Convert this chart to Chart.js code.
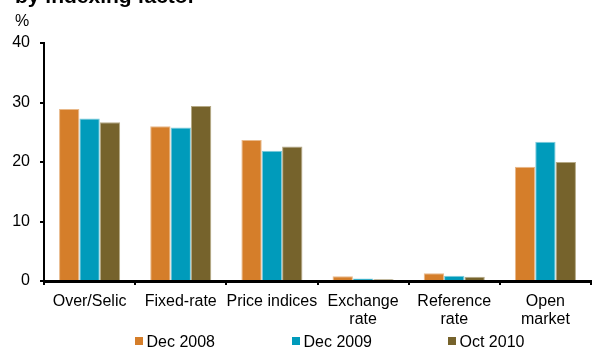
<!DOCTYPE html>
<html><head><meta charset="utf-8">
<script src="https://cdn.jsdelivr.net/npm/chart.js@4/dist/chart.umd.min.js"></script>
<style>
html,body{margin:0;padding:0;background:#fff;overflow:hidden}
#wrap{position:relative;width:593px;height:349px;overflow:hidden}
#title{position:absolute;left:15px;top:-15px;font:bold 21px/21px "Liberation Sans",Arial,sans-serif;color:#000;white-space:nowrap}
canvas{position:absolute;left:0;top:0}
</style></head><body>
<div id="wrap"><canvas id="c" width="593" height="349"></canvas><div id="title">by indexing factor</div></div>
<script>
const categories = [["Over/Selic"],["Fixed-rate"],["Price indices"],["Exchange","rate"],["Reference","rate"],["Open","market"]];
const seriesNames = ["Dec 2008","Dec 2009","Oct 2010"];
const dec2008 = [28.9, 26.0, 23.7, 0.8, 1.3, 19.2];
const dec2009 = [27.3, 25.8, 21.9, 0.4, 0.9, 23.4];
const oct2010 = [26.7, 29.4, 22.6, 0.3, 0.7, 20.0];
const yTicks = [0, 10, 20, 30, 40];
const unitLabel = "%";

const FONT = '"Liberation Sans", Arial, sans-serif';
const colors = ['#D57E2A', '#009BBB', '#76632C'];
const edges = ['#E9B98A', '#7FCBDB', '#B5A985'];

const overlay = {
  id: 'overlay',
  afterDraw(chart) {
    const ctx = chart.ctx;
    const xs = [135, 292, 448];
    ctx.save();
    ctx.font = '16px ' + FONT;
    ctx.textBaseline = 'alphabetic';
    ctx.textAlign = 'left';
    chart.data.datasets.forEach((ds, i) => {
      ctx.fillStyle = ds.backgroundColor;
      ctx.fillRect(xs[i], 337, 8, 8);
      ctx.fillStyle = '#000';
      ctx.fillText(ds.label, xs[i] + 11.5, 346.5);
    });
    ctx.fillStyle = '#000';
    ctx.fillText(unitLabel, 15, 26);
    ctx.restore();
  }
};

new Chart(document.getElementById('c'), {
  type: 'bar',
  data: {
    labels: categories,
    datasets: [dec2008, dec2009, oct2010].map((d, i) => ({
      label: seriesNames[i],
      data: d,
      backgroundColor: colors[i],
      borderColor: edges[i],
      borderWidth: 1,
      categoryPercentage: 0.67,
      barPercentage: 1.0
    }))
  },
  options: {
    responsive: false,
    animation: false,
    layout: { padding: { top: 43, right: 2, left: 0, bottom: 0 } },
    plugins: { legend: { display: false }, tooltip: { enabled: false }, title: { display: false } },
    scales: {
      x: {
        afterFit(s) { s.height = 68; },
        grid: { display: true, drawOnChartArea: false, drawTicks: true, tickLength: 4, color: '#000', lineWidth: 2, offset: true },
        border: { display: true, color: '#000', width: 3 },
        ticks: { color: '#000', font: { family: FONT, size: 16, lineHeight: 1.1 }, padding: 8, maxRotation: 0, autoSkip: false }
      },
      y: {
        min: 0, max: 40,
        afterFit(s) { s.width = 44; },
        afterBuildTicks(s) { s.ticks = yTicks.map(v => ({ value: v })); },
        grid: { display: true, drawOnChartArea: false, drawTicks: true, tickLength: 4, color: '#000', lineWidth: 2 },
        border: { display: true, color: '#000', width: 2 },
        ticks: { color: '#000', font: { family: FONT, size: 16 }, padding: 10 }
      }
    }
  },
  plugins: [overlay]
});
</script>
</body></html>
